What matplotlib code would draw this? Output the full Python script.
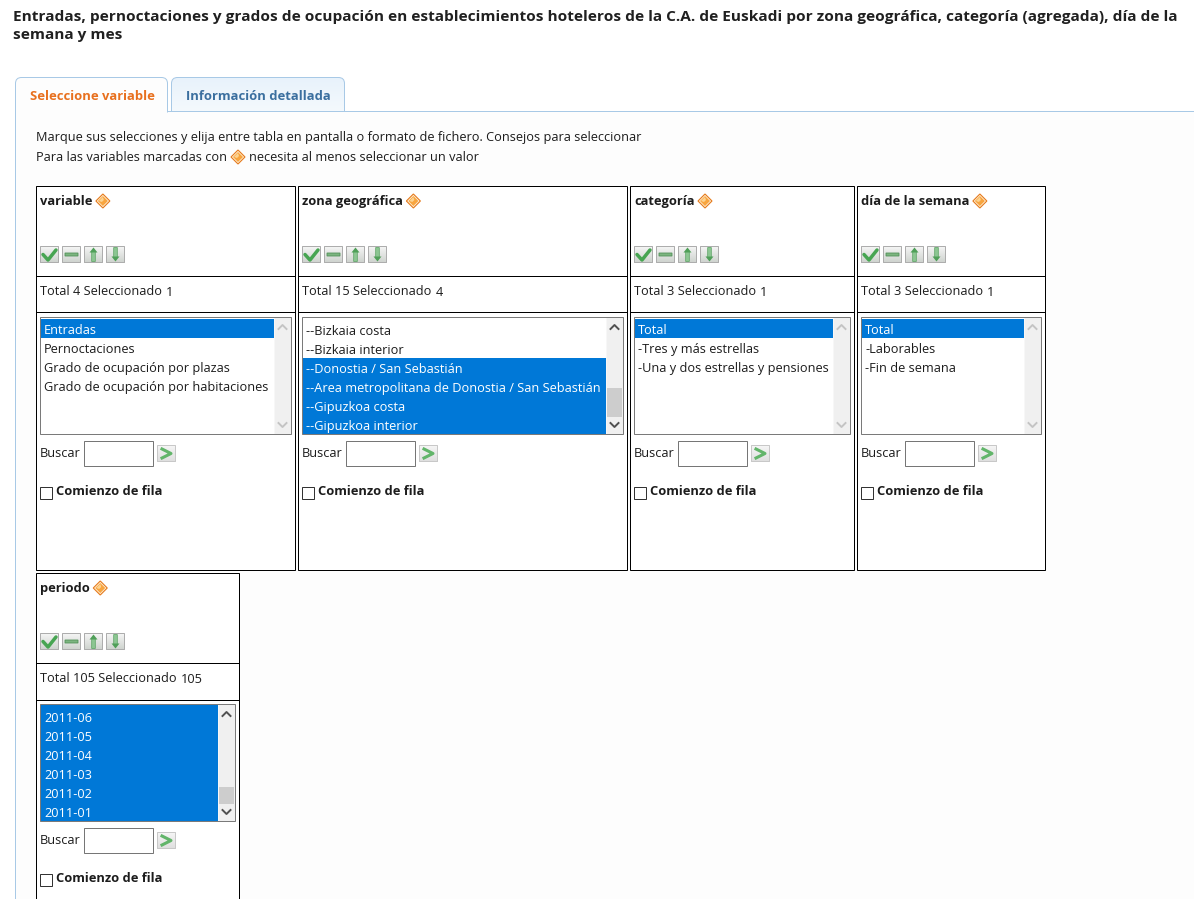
import matplotlib
matplotlib.use("Agg")
import matplotlib.pyplot as plt
import numpy as np
from matplotlib.patches import Rectangle, Polygon, PathPatch
from matplotlib.path import Path

# Texts of the form
title_lines = ["Entradas, pernoctaciones y grados de ocupación en establecimientos hoteleros de la C.A. de Euskadi por zona geográfica, categoría (agregada), día de la",
               "semana y mes"]
tab_labels = ["Seleccione variable", "Información detallada"]
intro_1 = "Marque sus selecciones y elija entre tabla en pantalla o formato de fichero. Consejos para seleccionar"
intro_2a = "Para las variables marcadas con"
intro_2b = "necesita al menos seleccionar un valor"

names = ["variable", "zona geográfica", "categoría", "día de la semana", "periodo"]
totals = [4, 15, 3, 3, 105]
selected = [1, 4, 1, 1, 105]
options = [
    ["Entradas", "Pernoctaciones", "Grado de ocupación por plazas", "Grado de ocupación por habitaciones"],
    ["--Bizkaia costa", "--Bizkaia interior", "--Donostia / San Sebastián",
     "--Area metropolitana de Donostia / San Sebastián", "--Gipuzkoa costa", "--Gipuzkoa interior"],
    ["Total", "-Tres y más estrellas", "-Una y dos estrellas y pensiones"],
    ["Total", "-Laborables", "-Fin de semana"],
    ["2011-06", "2011-05", "2011-04", "2011-03", "2011-02", "2011-01"],
]
marked = [[0], [2, 3, 4, 5], [0], [0], [0, 1, 2, 3, 4, 5]]

# left, right, top, bottom of each box
boxes = [(36, 296, 186, 571), (298, 628, 186, 571), (630, 855, 186, 571), (857, 1046, 186, 571), (36, 240, 573, 905)]
thumbs = [None, (388, 417), None, None, (787, 804)]
first_row = [329, 330, 329, 329, 717]

plt.rcParams["font.family"] = ["Open Sans", "DejaVu Sans"]
TEXT = "#1c1c1c"
BLUE = "#0078d7"
EDGE = "#a8c9e6"
PANEL = "#fdfdfd"
PX = 72 / 100  # font size for one pixel
REG = 12.8
BOLD = 12.85

fig = plt.figure(figsize=(11.94, 8.99), dpi=100)
ax = fig.add_axes([0, 0, 1, 1])
ax.set_xlim(0, 1194)
ax.set_ylim(899, 0)
ax.axis("off")


def label(x, y, s, size=REG, color=TEXT, weight="normal", z=6):
    return ax.text(x, y + 5, s, fontsize=size * PX, color=color, weight=weight, va="baseline", ha="left", zorder=z)


def rect(x0, y0, x1, y1, fc="none", ec="none", lw=1.0, z=1):
    ax.add_patch(Rectangle((x0, y0), x1 - x0, y1 - y0, fc=fc, ec=ec, lw=lw * PX, zorder=z, snap=False))


def hline(x0, x1, y, color="black", z=3):
    ax.plot([x0, x1], [y, y], color=color, lw=PX, zorder=z, snap=False, solid_capstyle="butt")


def vgrad(x0, y0, x1, y1, top, bottom, z=1):
    grad = np.linspace(0, 1, 32).reshape(-1, 1, 1)
    cols = np.array(matplotlib.colors.to_rgb(top)) * (1 - grad) + np.array(matplotlib.colors.to_rgb(bottom)) * grad
    return ax.imshow(cols, extent=(x0, x1, y1, y0), aspect="auto", zorder=z, interpolation="bilinear")


def tab_shape(x0, x1, top, bot, fc, r=6):
    verts = [(x0, bot), (x0, top + r), (x0, top), (x0 + r, top), (x1 - r, top), (x1, top), (x1, top + r), (x1, bot)]
    codes = [Path.MOVETO, Path.LINETO, Path.CURVE3, Path.CURVE3, Path.LINETO, Path.CURVE3, Path.CURVE3, Path.LINETO]
    patch = PathPatch(Path(verts, codes), fc=fc, ec=EDGE, lw=PX, zorder=1.5, snap=False)
    ax.add_patch(patch)
    return patch


def diamond(cx, cy):
    ax.add_patch(Polygon([(cx - 7, cy), (cx, cy - 7), (cx + 7, cy), (cx, cy + 7)], fc="#fff0d8", ec="#e57a1c", lw=0.8, zorder=4))
    ax.add_patch(Polygon([(cx - 5, cy), (cx, cy - 5), (cx + 5, cy), (cx, cy + 5)], fc="#f8a53f", ec="none", zorder=5))
    ax.add_patch(Polygon([(cx - 4, cy), (cx, cy - 4), (cx + 1, cy - 1), (cx - 1, cy + 1)], fc="#fcd391", ec="none", zorder=5.1))


def tool_button(x, y, kind):
    w, h = 19, 17
    vgrad(x, y, x + w, y + h, "#f6f6f6", "#cdd2cd", z=3)
    rect(x + 0.5, y + 0.5, x + w - 0.5, y + h - 0.5, ec="#adadad", z=4)
    cx = x + w / 2
    cy = y + h / 2
    if kind == "check":
        ax.plot([x + 3, x + 8, x + 16], [cy, y + 14, y + 4], color="#47a552", lw=2.5, zorder=5, solid_capstyle="round")
    elif kind == "minus":
        rect(x + 3, cy - 1.5, x + 16, cy + 1.5, fc="#7cb580", ec="#4f8f56", lw=0.8, z=5)
    else:
        tip, tail, sgn = (y + 1.5, y + 15.5, 1) if kind == "up" else (y + 15.5, y + 1.5, -1)
        rect(cx - 1.8, min(tail, tip + 4 * sgn), cx + 1.8, max(tail, tip + 4 * sgn), fc="#8cc692", ec="#58a060", lw=0.7, z=5)
        ax.add_patch(Polygon([(cx - 4, tip + 5 * sgn), (cx, tip), (cx + 4, tip + 5 * sgn)], fc="#4f9f58", ec="none", zorder=5.1))


def scroll_arrow(cx, cy, up, color):
    sgn = -1 if up else 1
    ax.plot([cx - 4, cx, cx + 4], [cy - 2 * sgn, cy + 2 * sgn, cy - 2 * sgn], color=color, lw=1.4, zorder=5)


# page and panel
ax.add_patch(Rectangle((0, 0), 1194, 899, fc="white", ec="none", zorder=0))
rect(15, 111, 1194, 899, fc=PANEL, z=0.5)
ax.plot([15.5, 15.5], [100, 899], color=EDGE, lw=PX, zorder=2, snap=False)
hline(168, 1194, 111.5, color=EDGE, z=2)

for i, line in enumerate(title_lines):
    label(13, 16.5 + 17.5 * i, line, size=15.4, color="#202020", weight="bold")

# tabs
active = tab_shape(15.5, 167.5, 77.5, 112.5, PANEL)
second = tab_shape(171.5, 344.5, 77.5, 111.5, "none")
vgrad(171, 77, 345, 111, "#e8f2fb", "#f4f9fd", z=1.1).set_clip_path(second)
label(30, 95, tab_labels[0], size=13, color="#e8701e", weight="bold")
label(186, 95, tab_labels[1], size=13, color="#3b6f9f", weight="bold")

label(36, 136, intro_1)
label(36, 156, intro_2a)
diamond(238, 157)
label(249, 156, intro_2b)

# one box per variable
for n, (x0, x1, y0, y1) in enumerate(boxes):
    rect(x0 + 0.5, y0 + 0.5, x1 - 0.5, y1 - 0.5, fc="white", ec="black", z=2)
    hline(x0, x1, y0 + 90.5)
    hline(x0, x1, y0 + 126.5 + (n == 4))

    lx = x0 + 4
    t = label(lx, y0 + 14, names[n], size=BOLD, weight="bold")
    end = t.get_window_extent().transformed(ax.transData.inverted()).x1
    diamond(end + 10.5, y0 + 15)

    for k, kind in enumerate(["check", "minus", "up", "down"]):
        tool_button(lx + 22 * k, y0 + 60, kind)

    t = label(lx, y0 + 104, f"Total {totals[n]} Seleccionado")
    end = t.get_window_extent().transformed(ax.transData.inverted()).x1
    label(end + 4, y0 + 105, str(selected[n]))

    # list with its scrollbar
    top = y0 + 131
    bot = top + 117
    has_thumb = thumbs[n] is not None
    rect(lx + 0.5, top + 0.5, x1 - 4.5, bot + 0.5, fc="white", ec="#7a7a7a", z=3)
    sb = x1 - 21
    rect(sb - 0.5, top + 1, x1 - 5, bot, fc="#f0f0f0", z=3.5)
    if has_thumb:
        rect(sb, thumbs[n][0], x1 - 6, thumbs[n][1], fc="#cdcdcd", z=3.6)
    scroll_arrow(sb + 7.5, top + 10, True, "#505050" if has_thumb else "#c4c4c4")
    scroll_arrow(sb + 7.5, bot - 9, False, "#505050" if has_thumb else "#c4c4c4")

    # periodo is selected all the way up to the list edge
    if n == 4:
        rect(lx + 1, top + 1, sb - 1, bot, fc=BLUE, z=3.2)
    row_y = first_row[n]
    for r, opt in enumerate(options[n]):
        yc = row_y + 19 * r
        if r in marked[n]:
            rect(lx + 1, yc - 10, sb - 1, min(yc + 9, bot), fc=BLUE, z=3.2)
            label(lx + 4, yc, opt, color="white")
        else:
            label(lx + 4, yc, opt)

    # search line
    by = bot + 7
    label(lx, by + 11, "Buscar")
    rect(lx + 44.5, by + 0.5, lx + 113.5, by + 25.5, fc="white", ec="#767676", z=4)
    vgrad(lx + 117, by + 4, lx + 136, by + 21, "#f6f6f6", "#dedede", z=4)
    rect(lx + 117.5, by + 4.5, lx + 135.5, by + 20.5, ec="#c8c8c8", z=5)
    ax.plot([lx + 122, lx + 131, lx + 122], [by + 8, by + 12.5, by + 17], color="#62b56a", lw=2.2, zorder=6)

    rect(lx + 0.5, by + 46.5, lx + 12.5, by + 58.5, fc="white", ec="#333333", z=4)
    label(lx + 16, by + 49, "Comienzo de fila", size=BOLD, weight="bold")

fig.savefig("out.png", dpi=100)
